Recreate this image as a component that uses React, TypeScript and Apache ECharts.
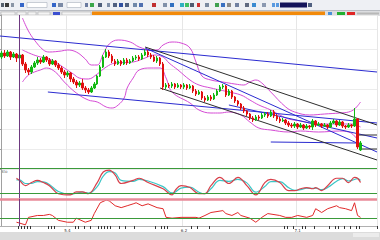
import React, { useEffect, useRef } from 'react';
import * as echarts from 'echarts';

const SLOTS = 126;
const cursorIdx = 6;
const monthIdx = [22, 61, 99];
const monthLabels = ['5.4', '6.2', '7.1'];
const dayTicks = [6, 7, 8, 9, 10, 16, 17, 18, 25, 26, 28, 30, 33, 34, 35, 36, 37, 40, 42, 45, 52, 54, 55, 56, 64, 66, 70, 95, 96, 98, 101, 102, 105, 110, 112, 113, 115, 117, 119, 120];

// [open, close, low, high]
const candles = [
[1352,1356,1350,1358],[1356,1353,1351,1359],[1353,1357,1352,1359],[1357,1352,1349,1358],[1352,1355,1351,1357],
[1355,1351,1347,1356],[1351,1354,1349,1356],[1354,1345,1343,1355],[1345,1339,1336,1347],[1339,1337,1334,1341],
[1337,1342,1335,1344],[1342,1346,1341,1348],[1346,1349,1344,1352],[1349,1347,1345,1351],[1347,1352,1346,1354],
[1352,1349,1347,1353],[1349,1345,1343,1351],[1345,1348,1344,1350],[1348,1344,1342,1349],[1344,1341,1339,1346],
[1341,1337,1335,1343],[1337,1334,1331,1339],[1334,1336,1332,1338],[1336,1330,1327,1337],[1330,1327,1325,1332],
[1327,1324,1321,1329],[1324,1326,1322,1328],[1326,1321,1319,1330],[1321,1319,1316,1323],[1319,1317,1315,1321],
[1317,1321,1316,1323],[1321,1325,1320,1327],[1325,1333,1324,1334],[1333,1342,1332,1344],[1342,1352,1341,1354],
[1352,1357,1351,1360],[1357,1353,1351,1359],[1353,1348,1346,1355],[1348,1345,1343,1350],[1345,1348,1344,1350],
[1348,1345,1343,1349],[1345,1349,1344,1351],[1349,1346,1344,1351],[1346,1348,1345,1350],[1348,1351,1347,1353],
[1351,1352,1349,1354],[1352,1350,1348,1354],[1350,1354,1349,1356],[1354,1357,1353,1360],[1357,1354,1352,1359],
[1354,1352,1350,1356],[1352,1348,1347,1354],[1348,1351,1346,1353],[1351,1345,1343,1352],[1345,1322,1319,1347],
[1322,1324,1320,1326],[1324,1323,1321,1326],[1323,1325,1321,1327],[1325,1322,1320,1326],[1322,1324,1321,1326],
[1324,1322,1320,1325],[1322,1324,1320,1326],[1324,1321,1319,1325],[1321,1323,1320,1325],[1323,1318,1316,1324],
[1318,1315,1313,1320],[1315,1317,1314,1319],[1317,1311,1309,1318],[1311,1309,1307,1313],[1309,1312,1308,1314],
[1312,1310,1308,1314],[1310,1314,1309,1316],[1314,1318,1313,1320],[1318,1322,1317,1324],[1322,1323,1320,1325],
[1323,1314,1312,1324],[1314,1318,1313,1320],[1318,1312,1310,1319],[1312,1308,1306,1313],[1308,1305,1303,1309],
[1305,1301,1299,1306],[1301,1298,1296,1303],[1298,1295,1293,1299],[1295,1291,1289,1296],[1291,1289,1287,1293],
[1289,1292,1288,1294],[1292,1291,1289,1294],[1291,1294,1290,1296],[1294,1295,1292,1297],[1295,1293,1291,1297],
[1293,1297,1292,1299],[1297,1293,1291,1299],[1293,1290,1288,1295],[1290,1288,1286,1292],[1288,1289,1287,1291],
[1289,1286,1284,1290],[1286,1284,1282,1288],[1284,1283,1281,1286],[1283,1285,1281,1287],[1285,1282,1280,1286],
[1282,1284,1281,1286],[1284,1281,1279,1285],[1281,1283,1280,1285],[1283,1282,1280,1284],[1282,1288,1279,1290],
[1288,1284,1282,1289],[1284,1285,1283,1287],[1285,1283,1281,1286],[1283,1284,1282,1286],[1284,1282,1280,1285],
[1282,1286,1281,1288],[1286,1288,1285,1290],[1288,1284,1282,1289],[1284,1287,1283,1289],[1287,1283,1281,1288],
[1283,1282,1280,1284],[1282,1284,1281,1286],[1284,1283,1281,1285],[1283,1290,1282,1301],[1290,1262,1260,1291],
[1259,1266,1258,1268]
];

// Bollinger bands: [candle index, price]
const upperBand = [[7,1391],[9,1378],[11,1369],[14,1359],[16,1357],[20,1358],[22,1359],[25,1357],[28,1350],[30,1344],[32,1344],[34,1355],[36,1365],[39,1369],[43,1367],[46,1362],[50,1359],[52,1359],[54,1364],[57,1367],[60,1366],[63,1361],[65,1347],[67,1333],[70,1329],[74,1327],[78,1325],[81,1324],[83,1327],[85,1329],[87,1326],[90,1317],[95,1302],[98,1297],[103,1294],[108,1295],[113,1296],[116,1297],[118,1300],[120,1307]];
const midBand = [[7,1359],[10,1355],[13,1352],[15,1351],[18,1347],[21,1341],[24,1335],[26,1331],[29,1330],[32,1335],[35,1342],[38,1346],[44,1347],[48,1351],[51,1354],[54,1352],[56,1346],[59,1339],[63,1329],[66,1324],[70,1321],[73,1319],[76,1317],[80,1314],[83,1309],[86,1304],[90,1299],[93,1294],[96,1290],[100,1288],[103,1286],[106,1285],[113,1285],[117,1285],[120,1282]];
const lowerBand = [[7,1327],[9,1334],[11,1337],[13,1339],[15,1341],[18,1337],[21,1327],[25,1316],[29,1309],[32,1307],[35,1302],[37,1301],[39,1304],[41,1311],[42,1321],[44,1331],[46,1339],[50,1341],[53,1341],[55,1331],[57,1317],[63,1306],[66,1299],[70,1296],[73,1296],[76,1297],[80,1294],[83,1287],[86,1281],[90,1279],[96,1277],[100,1278],[106,1277],[113,1278],[116,1277],[118,1273],[120,1264]];

// trend lines: [startIndex, startPrice, endIndex, endPrice]
const blueLines = [[-0.5,1373,125.5,1337],[15.5,1317,125.5,1286],[48,1361,125.5,1257],[76,1304,125.5,1271],[90,1267,118.5,1266]];
const blackLines = [[48,1362,125.5,1284],[53,1321,125.5,1249],[119,1274,125.5,1274],[120.5,1260,125.5,1260]];

// Stochastic %K and %D: [index, value]
const stochK = [[5,67],[6,60],[8,43],[10,53],[12,60],[14,53],[16,43],[19,17],[23,13],[25,23],[27,23],[29,17],[32,53],[34,87],[36,93],[38,77],[40,50],[44,60],[46,67],[49,53],[54,33],[57,13],[58,27],[60,43],[63,37],[66,17],[68,17],[70,43],[73,70],[76,50],[79,70],[82,43],[85,13],[88,53],[90,63],[93,53],[96,27],[98,27],[100,33],[102,37],[104,33],[105,37],[107,27],[109,43],[112,67],[114,67],[116,53],[118,70],[119,67],[120,53]];
const stochD = [[5,62],[6,62],[8,50],[10,50],[12,56],[14,55],[16,47],[19,24],[23,15],[25,19],[27,22],[29,19],[32,40],[34,74],[36,88],[38,84],[40,60],[44,57],[46,63],[49,58],[54,40],[57,20],[58,22],[60,35],[63,38],[66,22],[68,17],[70,33],[73,60],[76,57],[79,63],[82,52],[85,22],[88,40],[90,56],[93,56],[96,36],[98,28],[100,30],[102,35],[104,34],[105,35],[107,30],[109,37],[112,57],[114,66],[116,58],[118,63],[119,66],[120,60]];
const rsi = [[5,14],[6,11],[8,4],[9,32],[12,39],[14,39],[16,43],[17,39],[19,21],[22,14],[24,14],[25,29],[28,14],[30,21],[31,46],[33,86],[35,96],[36,93],[38,75],[40,68],[42,75],[44,82],[45,86],[47,75],[49,82],[52,68],[54,64],[55,32],[57,29],[60,32],[63,32],[65,32],[66,29],[68,39],[70,50],[74,57],[75,46],[77,39],[79,50],[80,39],[83,29],[85,14],[87,32],[89,46],[93,39],[95,32],[97,32],[99,39],[102,32],[104,39],[105,64],[107,50],[109,64],[112,75],[113,68],[115,64],[117,57],[118,86],[119,39],[120,32]];

const stochLevels = [100, 20];
const rsiLevel = 30;

const toolbarIcons: [number, number, string][] = [
  [1, 3, '#55606e'], [5, 4, '#3a3a3a'], [11, 3, '#8a95a5'], [20, 4, '#3566c8'], [52, 4, '#3566c8'], [58, 5, '#7b8aa6'],
  [85, 3, '#6a7ba0'], [90, 4, '#3aa64a'], [98, 4, '#4f5f7a'], [107, 3, '#8090a8'], [113, 4, '#506080'], [119, 4, '#3050a0'],
  [125, 4, '#506080'], [133, 4, '#7088a8'], [139, 4, '#5070b0'], [152, 4, '#c03030'], [163, 4, '#8090a8'], [170, 4, '#3070c0'],
  [180, 4, '#30b0c0'], [185, 4, '#40c060'], [190, 4, '#505a70'], [197, 3, '#d03030'], [205, 4, '#7a8aa0'], [215, 4, '#40a050'],
  [221, 4, '#3a70c0'], [227, 4, '#8a8a8a'], [235, 4, '#7080a0'], [245, 4, '#606a80'], [252, 4, '#3a8ad0'], [262, 4, '#8a98b0'],
  [272, 3, '#5a9ae0'], [276, 3, '#5a9ae0'], [308, 4, '#506080']
];

const segSeries = (lines: number[][], color: string, w: number) =>
  lines.map((l) => ({
    type: 'line', xAxisIndex: 1, yAxisIndex: 0, showSymbol: false, silent: true,
    data: [[l[0], l[1]], [l[2], l[3]]],
    lineStyle: { color, width: w }, z: 3,
  }));

export default function App() {
  const ref = useRef<HTMLDivElement>(null);
  useEffect(() => {
    document.body.style.margin = '0';
    const chart = echarts.init(ref.current!, null, { renderer: 'svg' });
    const cats = Array.from({ length: SLOTS }, (_, i) => String(i));
    const gridLine = { show: true, interval: (i: number) => monthIdx.includes(i), lineStyle: { color: '#e6e6e6', width: 1 } };
    const catAxis = (g: number, extra: any = {}) => ({
      type: 'category', gridIndex: g, data: cats, boundaryGap: true,
      axisLine: { show: false }, axisTick: { show: false }, axisLabel: { show: false },
      splitLine: gridLine, ...extra,
    });
    const valAxis = (g: number) => ({ type: 'value', gridIndex: g, min: -0.5, max: SLOTS - 0.5, show: false, splitLine: { show: false } });
    const cursorMark = { symbol: 'none', silent: true, label: { show: false }, lineStyle: { color: '#6e3a80', width: 1, type: 'solid' }, data: [{ xAxis: cursorIdx }] };

    const graphic: any[] = [
      { type: 'rect', shape: { x: 0, y: 0, width: 380, height: 11 }, style: { fill: '#eef0f4' } },
      { type: 'line', shape: { x1: 0, y1: 10.5, x2: 380, y2: 10.5 }, style: { stroke: '#b9bcc2', lineWidth: 1 } },
      { type: 'rect', shape: { x: 27, y: 2.5, width: 20, height: 5 }, style: { fill: '#ffffff', stroke: '#9aa3b0', lineWidth: 0.5 } },
      { type: 'rect', shape: { x: 67, y: 2.5, width: 14, height: 5 }, style: { fill: '#ffffff', stroke: '#9aa3b0', lineWidth: 0.5 } },
      { type: 'rect', shape: { x: 280, y: 2.5, width: 27, height: 5 }, style: { fill: '#14145a' } },
      ...toolbarIcons.map(([x, w, c]) => ({ type: 'rect', shape: { x, y: 3, width: w, height: 4 }, style: { fill: c } })),
      { type: 'rect', shape: { x: 0, y: 11, width: 380, height: 5 }, style: { fill: '#dcdde0' } },
      { type: 'rect', shape: { x: 92, y: 11.5, width: 233, height: 3.5 }, style: { fill: '#f28a0a' } },
      { type: 'rect', shape: { x: 1, y: 12, width: 14, height: 3 }, style: { fill: '#f4f4f4', stroke: '#a8a8a8', lineWidth: 0.5 } },
      { type: 'rect', shape: { x: 17, y: 12, width: 9, height: 3 }, style: { fill: '#f4f4f4', stroke: '#a8a8a8', lineWidth: 0.5 } },
      { type: 'rect', shape: { x: 28, y: 12, width: 8, height: 3 }, style: { fill: '#f4f4f4', stroke: '#a8a8a8', lineWidth: 0.5 } },
      { type: 'rect', shape: { x: 38, y: 12, width: 12, height: 3 }, style: { fill: '#f4f4f4', stroke: '#a8a8a8', lineWidth: 0.5 } },
      { type: 'rect', shape: { x: 53, y: 12, width: 7, height: 3 }, style: { fill: '#3b4fd0' } },
      { type: 'rect', shape: { x: 62, y: 12, width: 29, height: 3 }, style: { fill: '#f4f4f4', stroke: '#a8a8a8', lineWidth: 0.5 } },
      { type: 'rect', shape: { x: 328, y: 12, width: 4, height: 3 }, style: { fill: '#4a90d8' } },
      { type: 'rect', shape: { x: 337, y: 12, width: 8, height: 3 }, style: { fill: '#22b030' } },
      { type: 'rect', shape: { x: 347, y: 12, width: 8, height: 3 }, style: { fill: '#e02525' } },
      { type: 'rect', shape: { x: 357, y: 12.5, width: 22, height: 2 }, style: { fill: '#b8b8b8' } },
      { type: 'text', x: 1, y: 169.5, style: { text: 'Sto', fontSize: 4, fill: '#666', fontFamily: 'DejaVu Sans' } },
      { type: 'rect', shape: { x: 0, y: 232, width: 380, height: 8 }, style: { fill: '#dcdcdc' } },
      { type: 'rect', shape: { x: 353, y: 233, width: 26, height: 4 }, style: { fill: '#ececec' } },
    ];

    chart.setOption({
      animation: false,
      backgroundColor: '#ffffff',
      graphic,
      grid: [
        { left: 0, right: 3, top: 15, height: 154 },
        { left: 0, right: 3, top: 168, height: 31 },
        { left: 0, right: 3, top: 199, height: 27 },
      ],
      xAxis: [
        catAxis(0), valAxis(0),
        catAxis(1), valAxis(1),
        catAxis(2, {
          axisLine: { show: true, lineStyle: { color: '#b0b0b0' } },
          axisTick: { show: true, interval: (i: number) => dayTicks.includes(i), length: 3, lineStyle: { color: '#333' } },
          axisLabel: {
            show: true, interval: (i: number) => monthIdx.includes(i), fontSize: 4, color: '#333', margin: 2,
            fontFamily: 'DejaVu Sans', formatter: (_v: string, i: number) => monthLabels[monthIdx.indexOf(i)] ?? '',
          },
        }),
        valAxis(2),
      ],
      yAxis: [
        { type: 'value', gridIndex: 0, min: 1240, max: 1394, interval: 20, position: 'right',
          axisLine: { show: true, lineStyle: { color: '#a0a0a0' } }, axisTick: { show: true, inside: true, length: 2 },
          axisLabel: { show: false }, splitLine: { show: true, lineStyle: { color: '#ececec' } } },
        { type: 'value', gridIndex: 1, min: 0, max: 100, position: 'right',
          axisLine: { show: true, lineStyle: { color: '#a0a0a0' } }, axisTick: { show: false }, axisLabel: { show: false }, splitLine: { show: false } },
        { type: 'value', gridIndex: 2, min: 0, max: 100, position: 'right',
          axisLine: { show: true, lineStyle: { color: '#a0a0a0' } }, axisTick: { show: false }, axisLabel: { show: false }, splitLine: { show: false } },
      ],
      series: [
        {
          type: 'candlestick', xAxisIndex: 0, yAxisIndex: 0, data: candles, barWidth: 2, z: 4,
          itemStyle: { color: '#12b812', color0: '#e01010', borderColor: '#12b812', borderColor0: '#e01010', borderWidth: 1 },
          markLine: cursorMark,
        },
        ...[upperBand, midBand, lowerBand].map((d) => ({
          type: 'line', xAxisIndex: 1, yAxisIndex: 0, data: d, smooth: 0.4, showSymbol: false, silent: true, z: 2,
          lineStyle: { color: '#d54bd5', width: 1 },
        })),
        ...segSeries(blueLines, '#2b2bd0', 1),
        ...segSeries(blackLines, '#2e2e2e', 1),
        {
          type: 'line', xAxisIndex: 3, yAxisIndex: 1, data: stochD, smooth: 0.4, showSymbol: false, silent: true,
          lineStyle: { color: '#3cc6c6', width: 1.2 },
          markLine: { symbol: 'none', silent: true, label: { show: false }, lineStyle: { color: '#3a9a3a', width: 1.2, type: 'solid' },
            data: stochLevels.map((v) => ({ yAxis: v })) },
        },
        {
          type: 'line', xAxisIndex: 3, yAxisIndex: 1, data: stochK, smooth: 0.4, showSymbol: false, silent: true,
          lineStyle: { color: '#d8404a', width: 1.2 }, markLine: cursorMark,
        },
        {
          type: 'line', xAxisIndex: 5, yAxisIndex: 2, data: [], showSymbol: false, silent: true,
          markLine: { symbol: 'none', silent: true, label: { show: false }, lineStyle: { color: '#e88a98', width: 2.5, type: 'solid' }, data: [{ yAxis: 99 }] },
        },
        {
          type: 'line', xAxisIndex: 5, yAxisIndex: 2, data: rsi, showSymbol: false, silent: true, z: 3,
          lineStyle: { color: '#e02a2a', width: 1 },
          markLine: { symbol: 'none', silent: true, label: { show: false }, lineStyle: { color: '#3a9a3a', width: 1.2, type: 'solid' },
            data: [{ yAxis: rsiLevel }, { xAxis: cursorIdx, lineStyle: { color: '#6e3a80', width: 1 } }] },
        },
      ],
    });
    return () => chart.dispose();
  }, []);
  return <div ref={ref} style={{ position: 'fixed', left: 0, top: 0, width: 380, height: 240 }} />;
}
